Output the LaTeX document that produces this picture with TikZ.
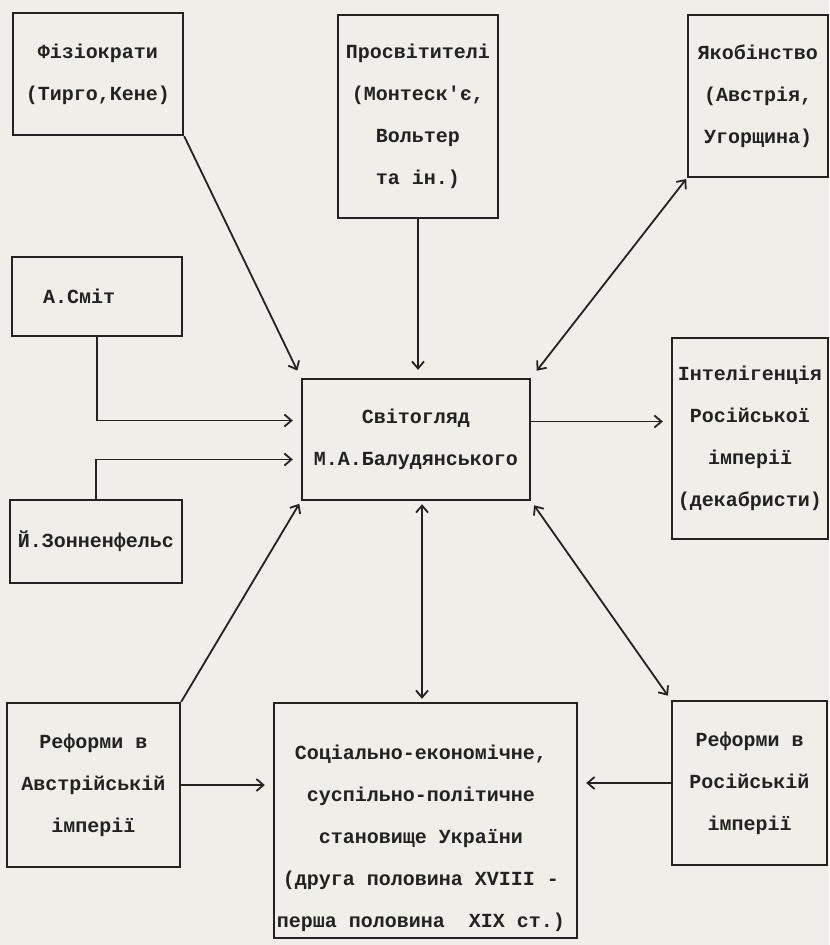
\documentclass[tikz,border=0pt]{standalone}
\usepackage{fontspec}
\usetikzlibrary{calc}
\usetikzlibrary{arrows.meta}
\newfontfamily\boxfont{Liberation Mono}
\definecolor{ink}{RGB}{34,34,34}
\definecolor{paper}{RGB}{239,238,233}
\tikzset{
  >={Straight Barb[length=7pt,width=12pt]},
  box/.style={draw=ink,text=ink,line width=2.4pt,align=center,inner sep=0pt,
    font=\boxfont\bfseries\fontsize{20}{42}\selectfont},
  link/.style={ink,line width=1.8pt,->,shorten >=8pt}
}

\begin{document}
\begin{tikzpicture}[x=1pt,y=-1pt]
\fill[paper] (0,0) rectangle (829,945);
\node[box,minimum width=170pt,minimum height=122pt] (fiz) at (98,74) {Фізіократи\\(Тирго,Кене)};
\node[box,minimum width=160pt,minimum height=203pt] (pros) at (418,116.5) {Просвітителі\\(Монтеск'є,\\Вольтер\\та ін.)};
\node[box,minimum width=140pt,minimum height=162pt] (yak) at (758,96) {Якобінство\\(Австрія,\\Угорщина)};
\node[box,minimum width=170pt,minimum height=79pt,text width=108pt,inner xsep=31pt,align=left] (smit) at (97,296.5) {А.Сміт};
\node[box,minimum width=228pt,minimum height=121pt] (svit) at (416,439.5) {Світогляд\\М.А.Балудянського};
\node[box,minimum width=156pt,minimum height=201pt] (intel) at (750,438.5) {Інтелігенція\\Російської\\імперії\\(декабристи)};
\node[box,minimum width=172pt,minimum height=83pt] (zonn) at (96,541.5) {Й.Зонненфельс};
\node[box,minimum width=173pt,minimum height=164pt] (refA) at (93.5,785) {Реформи в\\Австрійській\\імперії};
\node[box,minimum width=303pt,minimum height=235pt] (soc) at (425.5,820.5) {};
\node[box,draw=none] (soct) at (421,838) {Соціально-економічне,\\суспільно-політичне\\становище України\\(друга половина XVIII -\\перша половина~~XIX ст.)};
\node[box,minimum width=155pt,minimum height=164pt] (refR) at (749.5,783) {Реформи в\\Російській\\імперії};
\draw[link] (fiz.south east) -- (svit.north west);
\draw[link] (pros.south) -- (pros.south |- svit.north);
\draw[link,<->,shorten <=9pt,shorten >=1pt] (svit.north east) -- (yak.south west);
\draw[link] (smit.south) |- ([yshift=19pt]svit.west);
\draw[link] (zonn.north) |- ([yshift=-20pt]svit.west);
\draw[link] ([yshift=18pt]svit.east) -- ([yshift=18pt]svit.east -| intel.west);
\draw[link,<->,shorten <=3pt,shorten >=3pt] ([xshift=6pt]svit.south) -- ([xshift=6pt]svit.south |- soc.north);
\draw[link,shorten >=3pt] (refA.north east) -- (svit.south west);
\draw[link,<->,shorten <=5pt,shorten >=5pt] (svit.south east) -- (refR.north west);
\draw[link] (refA.east) -- (refA.east -| soc.west);
\draw[link] (refR.west) -- (refR.west -| soc.east);
\end{tikzpicture}
\end{document}
